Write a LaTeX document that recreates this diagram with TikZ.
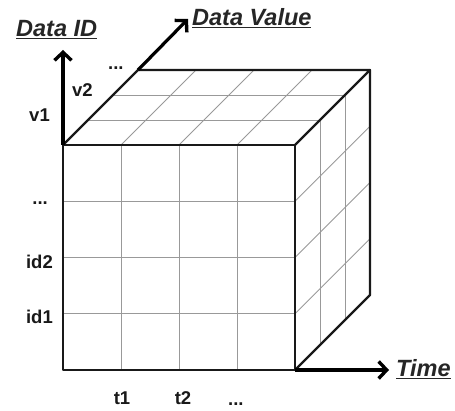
\documentclass[tikz,border=0pt]{standalone}
\usepackage{fontspec}
\setmainfont{Liberation Sans}
\usetikzlibrary{arrows.meta,calc}
\begin{document}
\begin{tikzpicture}[x=1pt,y=-1pt,
  gridline/.style={draw=black!40,line width=0.9pt},
  edge/.style={draw=black!90,line width=2.2pt,line join=round,line cap=round},
  axis/.style={draw=black,line width=3.2pt,-{Straight Barb[length=8pt,width=17pt,line width=3.4pt]}},
  small/.style={font=\fontsize{18.5}{22}\selectfont\bfseries,inner sep=0pt,text=black!90},
  big/.style={font=\fontsize{23.5}{27}\selectfont\bfseries\itshape,inner sep=0pt,text=black!85}]
\useasboundingbox (0,0) rectangle (455,411);
% corners
\coordinate (A) at (63,370);
\coordinate (B) at (295,370);
\coordinate (C) at (295,145);
\coordinate (D) at (63,145);
\coordinate (E) at (138,70);
\coordinate (F) at (370,70);
\coordinate (G) at (370,295);
% front face grid
\foreach \i in {1,2,3} {
  \draw[gridline] ($(A)!\i/4!(B)$) -- ($(D)!\i/4!(C)$);
  \draw[gridline] ($(A)!\i/4!(D)$) -- ($(B)!\i/4!(C)$);
}
% top face grid
\foreach \i in {1,2,3} {
  \draw[gridline] ($(D)!\i/4!(C)$) -- ($(E)!\i/4!(F)$);
}
\foreach \i in {1,2} {
  \draw[gridline] ($(D)!\i/3!(E)$) -- ($(C)!\i/3!(F)$);
}
% right face grid
\foreach \i in {1,2,3} {
  \draw[gridline] ($(B)!\i/4!(C)$) -- ($(G)!\i/4!(F)$);
}
\foreach \i in {1,2} {
  \draw[gridline] ($(B)!\i/3!(G)$) -- ($(C)!\i/3!(F)$);
}
% outline
\draw[edge] (A) -- (B) -- (C) -- (D) -- cycle;
\draw[edge] (D) -- (E) -- (F) -- (C);
\draw[edge] (F) -- (G) -- (B);
% axes
\coordinate (idtip) at (63,50);
\coordinate (valtip) at (188,19);
\coordinate (timetip) at (389,370);
\draw[axis] (D) -- (idtip);
\draw[axis] (E) -- (valtip);
\draw[axis] (B) -- (timetip);
% axis titles
\node[big,anchor=base west] (lid) at (16,37) {\underline{Data ID}};
\node[big,anchor=base west] (lval) at (192,26) {\underline{Data Value}};
\node[big,anchor=base west] (ltime) at (396,377) {\underline{Time}};
% tick labels
\node[small,anchor=base east] (ldots) at (48,205) {...};
\node[small,anchor=east] (lid2) at (53,262) {id2};
\node[small,anchor=east] (lid1) at (53,317) {id1};
\node[small,anchor=east] (lv1) at (50,115) {v1};
\node[small,anchor=west] (lv2) at (72,90) {v2};
\node[small,anchor=base west] (lvdots) at (108,70) {...};
\node[small] (lt1) at (122,398) {t1};
\node[small] (lt2) at (183,398) {t2};
\node[small,anchor=base west] (ltdots) at (228,405) {...};
\end{tikzpicture}
\end{document}
